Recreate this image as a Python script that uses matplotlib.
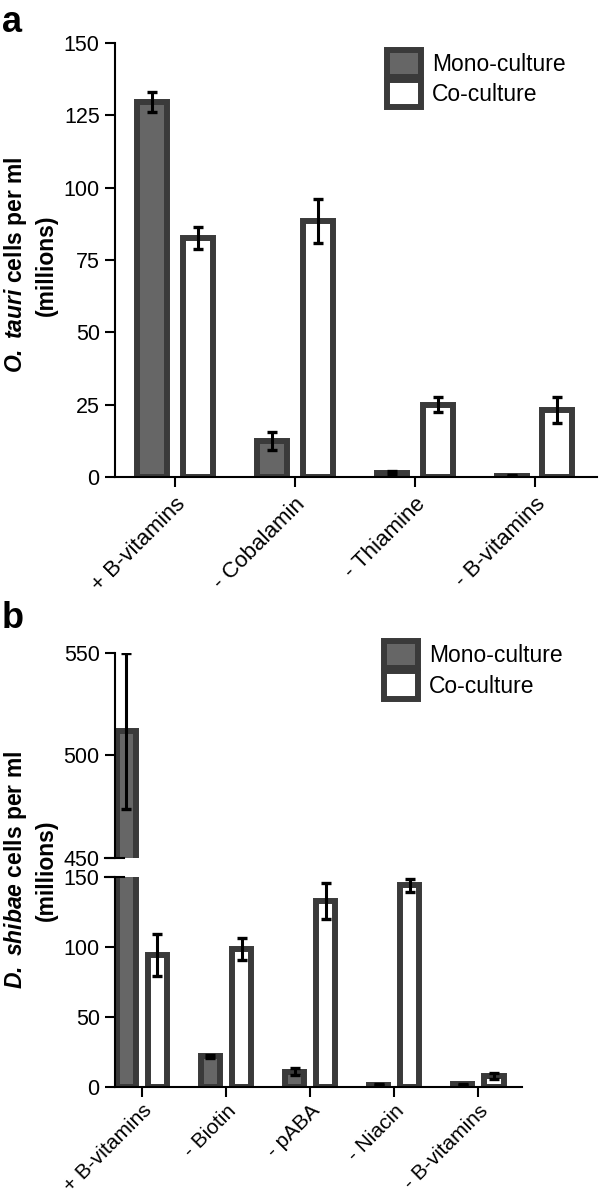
import numpy as np
import matplotlib
matplotlib.use('Agg')
import matplotlib.pyplot as plt

plt.rcParams['font.family'] = ['Liberation Sans', 'DejaVu Sans']
plt.rcParams['mathtext.fontset'] = 'custom'
plt.rcParams['mathtext.rm'] = 'Liberation Sans'
plt.rcParams['mathtext.bf'] = 'Liberation Sans:bold'
plt.rcParams['mathtext.it'] = 'Liberation Sans:italic'
plt.rcParams['mathtext.bfit'] = 'Liberation Sans:bold:italic'

# panel a data (millions of cells per ml)
a_cats = ['+ B-vitamins', '- Cobalamin', '- Thiamine', '- B-vitamins']
a_mono = [129.5, 12.5, 1.5, 0.5]
a_mono_err = [3.5, 3.0, 0.5, 0.2]
a_co = [82.5, 88.5, 25.0, 23.0]
a_co_err = [3.8, 7.5, 2.5, 4.5]

# panel b data
b_cats = ['+ B-vitamins', '- Biotin', '- pABA', '- Niacin', '- B-vitamins']
b_mono = [512.0, 22.0, 11.0, 1.5, 2.0]
b_mono_err = [38.0, 1.0, 2.5, 0.3, 0.5]
b_co = [94.0, 98.5, 133.0, 144.0, 8.0]
b_co_err = [15.0, 8.0, 13.0, 4.5, 2.0]

MONO_FC = '#666666'
EDGE = '#3a3a3a'
LW = 4.3
FS = 15.5

fig = plt.figure(figsize=(6, 11.99), dpi=100)


def style_axis(ax):
    for s in ['top', 'right']:
        ax.spines[s].set_visible(False)
    for s in ['left', 'bottom']:
        ax.spines[s].set_linewidth(1.5)
    ax.tick_params(width=1.5, length=7, labelsize=FS, pad=4)


def draw_bars(ax, x, mono, mono_err, co, co_err, width, off, legend_at=None):
    ax.bar(x - off, mono, width, color=MONO_FC, edgecolor=EDGE, linewidth=LW,
           label='Mono-culture', zorder=2)
    ax.bar(x + off, co, width, color='white', edgecolor=EDGE, linewidth=LW,
           label='Co-culture', zorder=2)
    ax.errorbar(x - off, mono, yerr=mono_err, fmt='none', ecolor='black',
                elinewidth=2.2, capsize=3.8, capthick=2.4, zorder=3)
    ax.errorbar(x + off, co, yerr=co_err, fmt='none', ecolor='black',
                elinewidth=2.2, capsize=3.8, capthick=2.4, zorder=3)
    if legend_at is not None:
        ax.legend(loc='upper right', bbox_to_anchor=legend_at, frameon=False,
                  fontsize=16.5, handlelength=1.45, handleheight=1.45,
                  labelspacing=0.15, handletextpad=0.5, borderaxespad=0,
                  borderpad=0)


# ---- panel a ----
ax_a = fig.add_axes([115 / 600, 1 - 477 / 1199, 482 / 600, 434 / 1199])
xa = np.arange(len(a_cats))
draw_bars(ax_a, xa, a_mono, a_mono_err, a_co, a_co_err, 0.25, 0.19,
          legend_at=(0.935, 0.985))
ax_a.set_xlim(-0.5, 3.52)
ax_a.set_ylim(0, 150)
ax_a.set_yticks([0, 25, 50, 75, 100, 125, 150])
ax_a.set_xticks(xa)
ax_a.set_xticklabels(a_cats, rotation=45, ha='right', rotation_mode='anchor')
style_axis(ax_a)
ax_a.tick_params(axis='x', labelsize=16, pad=5)

fig.text(30 / 600, 1 - 265 / 1199,
         '$\\mathbfit{O.\\ tauri}$ cells per ml\n(millions)',
         rotation=90, ha='center', va='center', multialignment='center',
         fontsize=16.5, fontweight='bold', linespacing=1.3)
fig.text(2 / 600, 1 - 22 / 1199, 'a', fontsize=26, fontweight='bold',
         ha='left', va='center')

# ---- panel b (broken y axis) ----
left_b = 115 / 600
width_b = 407 / 600
ax_bt = fig.add_axes([left_b, 1 - 858 / 1199, width_b, 205 / 1199])
ax_bb = fig.add_axes([left_b, 1 - 1087 / 1199, width_b, 210 / 1199])
xb = np.arange(len(b_cats))
draw_bars(ax_bt, xb, b_mono, b_mono_err, b_co, b_co_err, 0.23, 0.185,
          legend_at=(1.10, 1.06))
draw_bars(ax_bb, xb, b_mono, b_mono_err, b_co, b_co_err, 0.23, 0.185)
for ax in (ax_bt, ax_bb):
    ax.set_xlim(-0.32, 4.52)
    style_axis(ax)

ax_bt.set_ylim(450, 550)
ax_bt.set_yticks([450, 500, 550])
ax_bt.spines['bottom'].set_visible(False)
ax_bt.tick_params(axis='x', bottom=False, labelbottom=False)

ax_bb.set_ylim(0, 150)
ax_bb.set_yticks([0, 50, 100, 150])
ax_bb.set_xticks(xb)
ax_bb.set_xticklabels(b_cats, rotation=45, ha='right', rotation_mode='anchor')
ax_bb.tick_params(axis='x', labelsize=15, pad=3)

# break marks crossing the spine
for ax, yy in ((ax_bt, 0), (ax_bb, 1)):
    ax.plot([-0.025, 0.022], [yy, yy], transform=ax.transAxes, color='black',
            lw=1.5, clip_on=False)

fig.text(30 / 600, 1 - 870 / 1199,
         '$\\mathbfit{D.\\ shibae}$ cells per ml\n(millions)',
         rotation=90, ha='center', va='center', multialignment='center',
         fontsize=16.5, fontweight='bold', linespacing=1.3)
fig.text(2 / 600, 1 - 618 / 1199, 'b', fontsize=26, fontweight='bold',
         ha='left', va='center')

fig.savefig('out.png', dpi=100)
